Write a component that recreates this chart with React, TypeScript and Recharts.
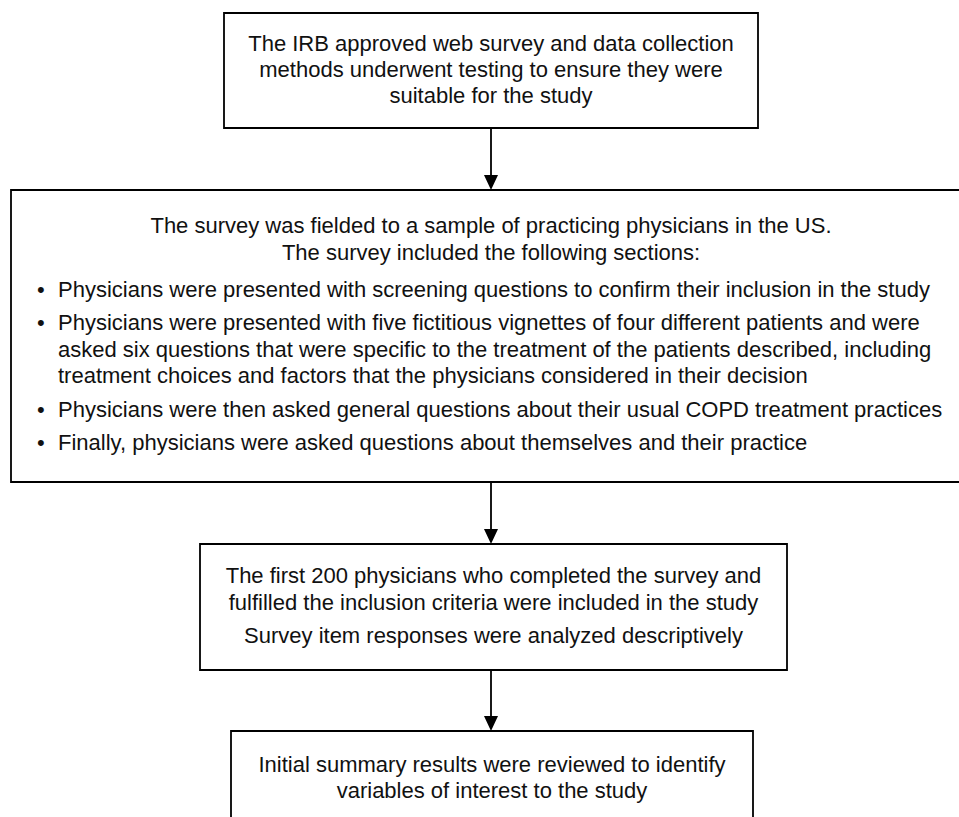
import {
    ReferenceArea,
    ReferenceLine,
    Scatter,
    ScatterChart,
    XAxis,
    YAxis,
} from 'recharts'

// box texts
const testingLines = [
    'The IRB approved web survey and data collection',
    'methods underwent testing to ensure they were',
    'suitable for the study',
]
const surveyHeader = [
    'The survey was fielded to a sample of practicing physicians in the US.',
    'The survey included the following sections:',
]
const surveyBullets = [
    ['Physicians were presented with screening questions to confirm their inclusion in the study'],
    [
        'Physicians were presented with five fictitious vignettes of four different patients and were',
        'asked six questions that were specific to the treatment of the patients described, including',
        'treatment choices and factors that the physicians considered in their decision',
    ],
    ['Physicians were then asked general questions about their usual COPD treatment practices'],
    ['Finally, physicians were asked questions about themselves and their practice'],
]
const inclusionLines = [
    'The first 200 physicians who completed the survey and',
    'fulfilled the inclusion criteria were included in the study',
    'Survey item responses were analyzed descriptively',
]
const reviewLines = [
    'Initial summary results were reviewed to identify',
    'variables of interest to the study',
]

// layout (page pixels, y grows downward)
const W = 959
const H = 817
const FONT = '"Liberation Sans", Arial, Helvetica, sans-serif'
const FS = 22
const INK = '#111'
const LINE = '#000'

const testingBox = { x1: 224, x2: 758, y1: 13, y2: 128 }
const surveyBox = { x1: 11, x2: 971, y1: 190, y2: 482 }
const inclusionBox = { x1: 200, x2: 787, y1: 544, y2: 670 }
const reviewBox = { x1: 231, x2: 753, y1: 731, y2: 845 }

// baselines relative to the top of each box
const testingBase = [38, 64, 90]
const surveyHeaderBase = [43, 70]
const surveyBulletBase = [[107], [140, 167, 193], [227], [260]]
const inclusionBase = [39, 66, 99]
const reviewBase = [41, 67]

const arrowX = 491
const shafts = [
    [testingBox.y2, surveyBox.y1],
    [surveyBox.y2, inclusionBox.y1],
    [inclusionBox.y2, reviewBox.y1],
]
const arrowTips = shafts.map(([, to]) => ({ x: arrowX, y: to }))

type VB = { x: number; y: number; width: number; height: number }

function centered(lines: string[], bases: number[], cx?: number) {
    return (props: any) => {
        const vb = props.viewBox as VB
        const x = cx ?? vb.x + vb.width / 2
        return (
            <g>
                {lines.map((t, i) => (
                    <text
                        key={i}
                        x={x}
                        y={vb.y + bases[i]}
                        textAnchor="middle"
                        fontFamily={FONT}
                        fontSize={FS}
                        fill={INK}
                    >
                        {t}
                    </text>
                ))}
            </g>
        )
    }
}

function surveyLabel(props: any) {
    const vb = props.viewBox as VB
    return (
        <g fontFamily={FONT} fontSize={FS} fill={INK}>
            {surveyHeader.map((t, i) => (
                <text key={'h' + i} x={arrowX} y={vb.y + surveyHeaderBase[i]} textAnchor="middle">
                    {t}
                </text>
            ))}
            {surveyBullets.map((item, i) => (
                <g key={'b' + i}>
                    <text x={vb.x + 26} y={vb.y + surveyBulletBase[i][0]}>
                        •
                    </text>
                    {item.map((t, j) => (
                        <text key={j} x={vb.x + 47} y={vb.y + surveyBulletBase[i][j]}>
                            {t}
                        </text>
                    ))}
                </g>
            ))}
        </g>
    )
}

function ArrowHead(props: any) {
    const { cx, cy } = props
    if (cx == null || cy == null) return null
    return <path d={`M${cx - 7},${cy - 15} L${cx + 7},${cy - 15} L${cx},${cy} Z`} fill={LINE} />
}

const boxStyle = { fill: '#fff', fillOpacity: 1, stroke: LINE, strokeWidth: 1.8, ifOverflow: 'visible' as const }

export default function App() {
    return (
        <div style={{ position: 'absolute', left: 0, top: 0, width: W, height: H, background: '#fff' }}>
            <ScatterChart width={W} height={H} margin={{ top: 0, right: 0, bottom: 0, left: 0 }}>
                <XAxis type="number" dataKey="x" domain={[0, W]} hide allowDataOverflow />
                <YAxis type="number" dataKey="y" domain={[0, H]} reversed hide allowDataOverflow />
                <ReferenceArea {...testingBox} {...boxStyle} label={centered(testingLines, testingBase)} />
                <ReferenceArea {...surveyBox} {...boxStyle} label={surveyLabel} />
                <ReferenceArea {...inclusionBox} {...boxStyle} label={centered(inclusionLines, inclusionBase)} />
                <ReferenceArea {...reviewBox} {...boxStyle} label={centered(reviewLines, reviewBase)} />
                {shafts.map(([from, to], i) => (
                    <ReferenceLine
                        key={i}
                        segment={[
                            { x: arrowX, y: from },
                            { x: arrowX, y: to - 8 },
                        ]}
                        stroke={LINE}
                        strokeWidth={1.8}
                        ifOverflow="visible"
                    />
                ))}
                <Scatter data={arrowTips} dataKey="y" shape={ArrowHead} isAnimationActive={false} />
            </ScatterChart>
        </div>
    )
}
